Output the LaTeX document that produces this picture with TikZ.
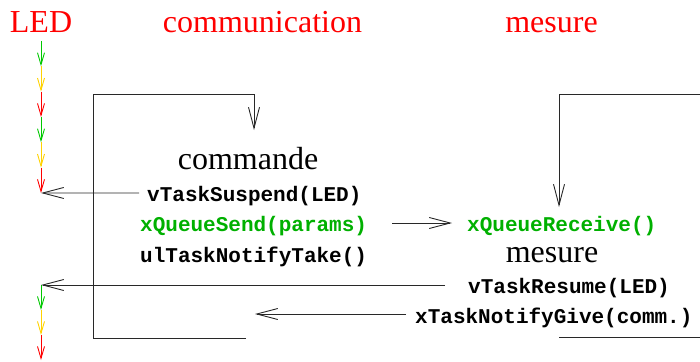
\documentclass[tikz,border=0pt]{standalone}
\usepackage{fontspec}
\setmainfont{Liberation Serif}
\newfontfamily\codefont{Liberation Mono}
\usetikzlibrary{arrows.meta}
\definecolor{ledred}{RGB}{255,0,0}
\definecolor{ledgreen}{RGB}{0,200,0}
\definecolor{ledyellow}{RGB}{255,210,0}
\definecolor{codegreen}{RGB}{0,176,0}
\definecolor{linegray}{RGB}{40,40,40}
\begin{document}
\begin{tikzpicture}[x=1pt,y=-1pt,
 title/.style={text=ledred, font=\fontsize{32}{38}\selectfont, inner sep=0pt, anchor=base},
 task/.style={font=\fontsize{32}{38}\selectfont, inner sep=0pt, anchor=base},
 call/.style={font=\codefont\bfseries\fontsize{21}{25}\selectfont, inner sep=0pt, anchor=base west},
 greencall/.style={call, text=codegreen},
 big/.style={draw=linegray, line width=0.9pt, -{Straight Barb[length=21pt,width=11pt]}},
 framel/.style={draw=linegray, line width=0.9pt},
 tiny/.style={line width=0.9pt, -{Straight Barb[length=12pt,width=7pt]}}
]
\useasboundingbox (0,0) rectangle (700,361);

% titles
\node[title] (led) at (41,33) {LED};
\node[title] (comm) at (262.5,33) {communication};
\node[title] (mes) at (551.5,33) {mesure};

% task names
\node[task] (cmd) at (248,169) {commande};
\node[task] (mes2) at (552,262) {mesure};

% calls
\node[call] (vts) at (147,201.5) {vTaskSuspend(LED)};
\node[greencall] (qs) at (140,231.7) {xQueueSend(params)};
\node[call] (unt) at (140,262.7) {ulTaskNotifyTake()};
\node[greencall] (qr) at (467,231.7) {xQueueReceive()};
\node[call] (vtr) at (468,293) {vTaskResume(LED)};
\node[call] (xng) at (415,323) {xTaskNotifyGive(comm.)};

% LED sequences
\foreach \i in {0,...,6} { \coordinate (t\i) at (41,{41+25.33*\i}); }
\foreach \i in {0,...,3} { \coordinate (b\i) at (41,{285+25*\i}); }
\foreach \i/\j/\c in {0/1/ledgreen,1/2/ledyellow,2/3/ledred,3/4/ledgreen,4/5/ledyellow,5/6/ledred}
  { \draw[tiny,\c] (t\i) -- (t\j); }
\foreach \i/\j/\c in {0/1/ledgreen,1/2/ledyellow,2/3/ledred}
  { \draw[tiny,\c] (b\i) -- (b\j); }

% frames
\coordinate (fa) at (246,338);
\coordinate (fb) at (93,338);
\coordinate (fc) at (93,94);
\coordinate (fd) at (254,94);
\coordinate (fe) at (254,130);
\draw[big] (fa) -- (fb) -- (fc) -- (fd) -- (fe);
\coordinate (ga) at (700,94);
\coordinate (gb) at (559,94);
\coordinate (gc) at (559,207);
\draw[big] (ga) -- (gb) -- (gc);
\coordinate (ha) at (559,337);
\coordinate (hb) at (700,337);
\draw[framel] (ha) -- (hb);

% connectors
\draw[big] ([yshift=8.5pt,xshift=-8pt]vts.base west) -- (t6);
\draw[big] ([yshift=8.7pt,xshift=25pt]qs.base east) -- ([yshift=8.7pt,xshift=-15pt]qr.base west);
\draw[big] ([yshift=8pt,xshift=-23pt]vtr.base west) -- (b0);
\coordinate (ng) at (255,314);
\draw[big] ([yshift=9pt,xshift=-9pt]xng.base west) -- (ng);
\end{tikzpicture}
\end{document}
